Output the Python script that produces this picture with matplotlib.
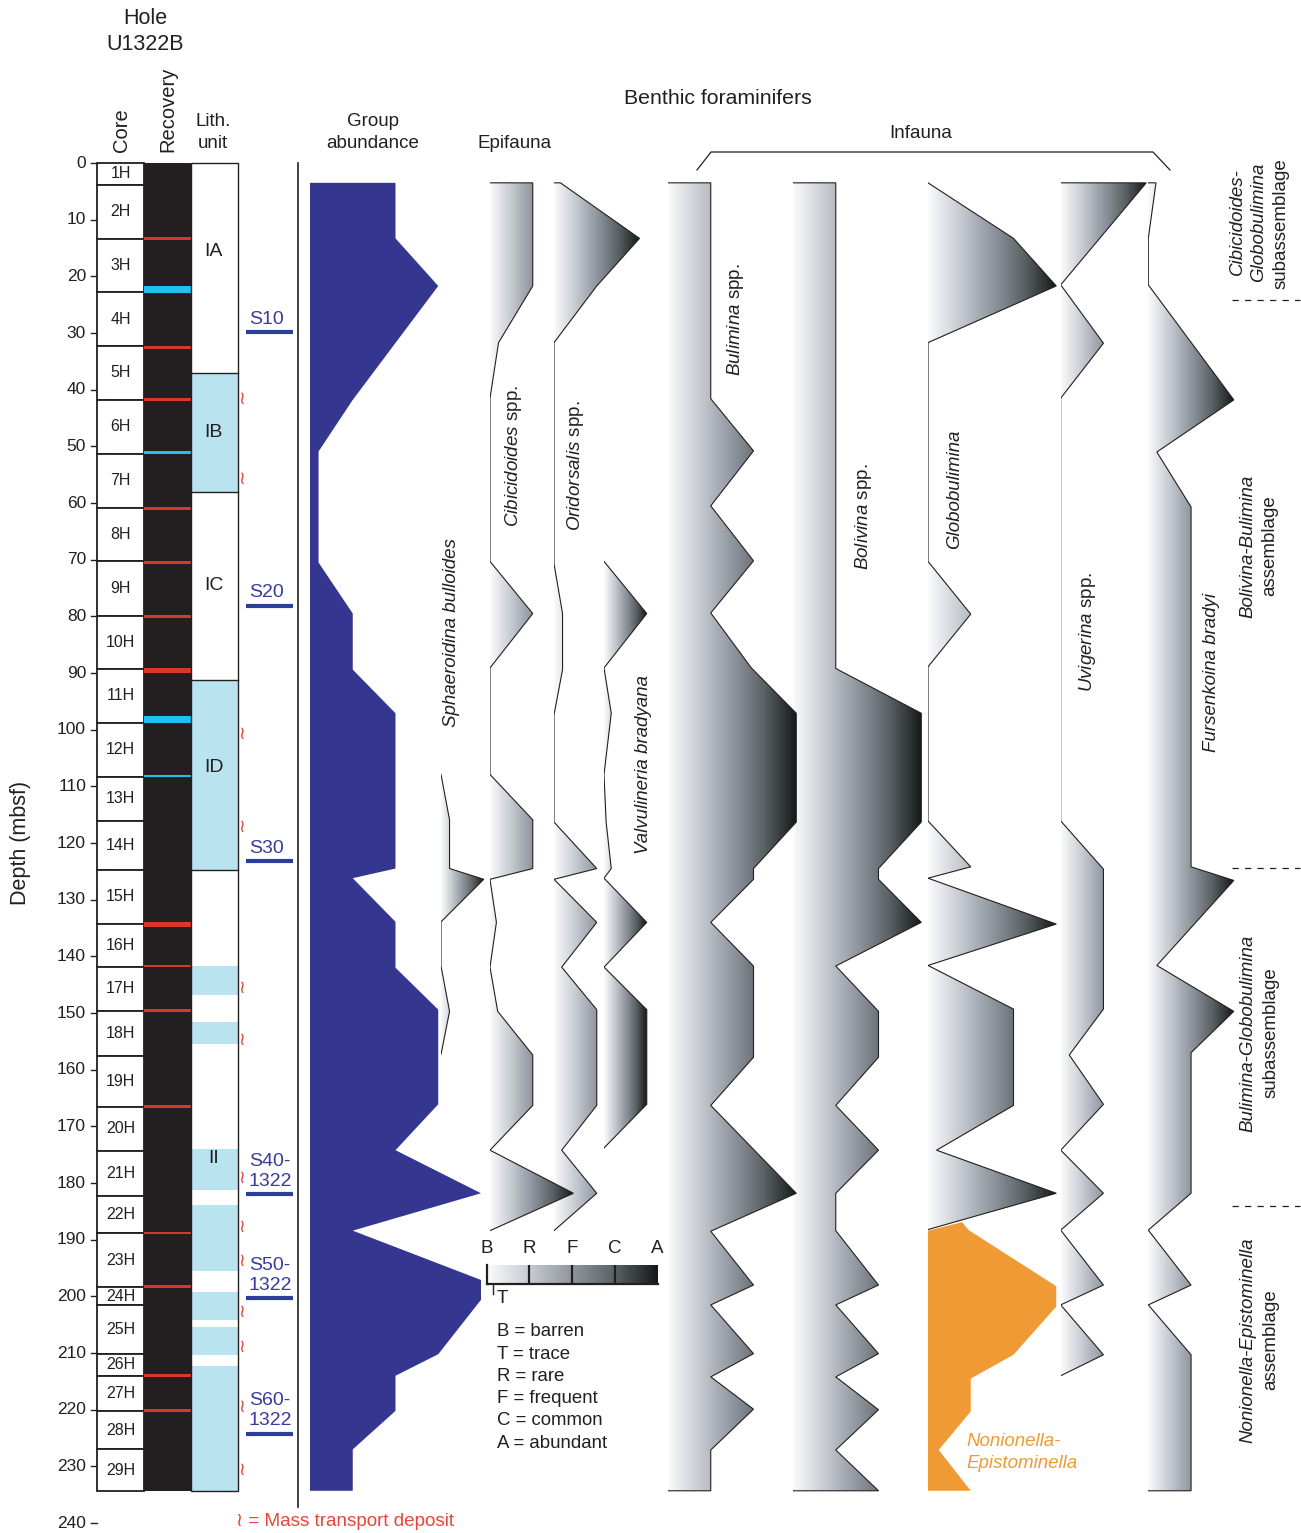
import numpy as np
import matplotlib
matplotlib.use("Agg")
import matplotlib.pyplot as plt
from matplotlib.colors import LinearSegmentedColormap
from matplotlib.patches import Polygon, Rectangle

plt.rcParams['font.family'] = ['Liberation Sans', 'DejaVu Sans']
plt.rcParams['mathtext.fontset'] = 'custom'
plt.rcParams['mathtext.rm'] = 'Liberation Sans'
plt.rcParams['mathtext.it'] = 'Liberation Sans:italic'

# ---------------------------------------------------------------- data
core_names = [f"{i}H" for i in range(1, 30)]
core_bottoms = [3.8, 13.4, 22.8, 32.3, 41.8, 51.3, 60.8, 70.3, 79.9, 89.3,
                98.8, 108.3, 116.1, 124.7, 134.2, 141.8, 149.7, 157.6, 166.6,
                174.3, 182.2, 188.9, 198.3, 201.6, 210.2, 214.0, 220.2, 227.0,
                234.4]

red_marks = [13.4, 32.5, 41.8, 60.9, 70.5, 80.0, 89.5, 134.3, 141.7, 149.6,
             166.5, 188.8, 198.3, 213.9, 220.1]
red_thick = [0.55, 0.55, 0.5, 0.55, 0.55, 0.55, 0.9, 0.9, 0.35, 0.5,
             0.45, 0.5, 0.5, 0.5, 0.45]
cyan_top = [21.7, 50.9, 97.5, 108.05]
cyan_bot = [22.9, 51.35, 98.8, 108.4]

lith_units = ['IA', 'IB', 'IC', 'ID', 'II']
lith_label_depth = [15.7, 47.6, 74.5, 106.6, 175.6]
lith_bounds = [37.1, 58.1, 91.3, 124.8]
mtd_top = [37.1, 91.3, 141.7, 151.5, 174.0, 183.9, 199.2, 205.4, 212.3]
mtd_bot = [58.1, 124.8, 146.9, 155.4, 181.3, 195.5, 204.2, 210.3, 234.3]
mtd_symbols = [41.8, 55.9, 100.8, 117.3, 145.6, 154.9, 179.2, 187.9, 193.9,
               202.9, 209.1, 219.6, 230.8]

seis_names = ['S10', 'S20', 'S30', 'S40-\n1322', 'S50-\n1322', 'S60-\n1322']
seis_depth = [29.9, 78.1, 123.2, 182.0, 200.3, 224.2]

depth_ticks = list(range(0, 241, 10))

# abundance levels: B=0, T~0.2, R=1, F=2, C=3, A=4
group_d = [3.5, 13.3, 21.7, 41.8, 50.9, 70.5, 79.5, 89.4, 97.1, 124.5, 126.2,
           133.9, 142.0, 149.4, 166.1, 174.2, 181.8, 188.4, 197.1, 200.6, 210.2,
           214.0, 220.2, 227.0, 234.3]
group_v = [2, 2, 3, 1, 0.2, 0.2, 1, 1, 2, 2, 1, 2, 2, 3, 3, 2, 4, 1, 4, 4, 3,
           2, 2, 1, 1]

sphaer_d = [107.9, 115.9, 124.5, 126.4, 133.9, 141.7, 149.7, 157.3]
sphaer_v = [0, 0.2, 0.2, 1, 0, 0, 0.2, 0]

cibic_d = [3.5, 21.7, 31.7, 41.5, 70.3, 79.5, 89.1, 107.9, 115.9, 124.5, 126.4,
           134.0, 141.9, 149.7, 157.4, 166.3, 174.2, 181.8, 188.4]
cibic_v = [1, 1, 0.2, 0, 0, 1, 0, 0, 1, 1, 0, 0.15, 0, 0.18, 1, 1, 0, 1.95, 0]

orid_d = [3.5, 13.3, 21.7, 31.7, 70.7, 79.5, 89.4, 97.4, 116.3, 124.5, 126.4,
          134.0, 141.9, 149.4, 166.3, 174.2, 181.8, 188.4]
orid_v = [0.15, 2, 1, 0, 0, 0.2, 0.2, 0, 0, 1, 0, 1, 0.18, 1, 1, 0.18, 1, 0]

valv_d = [70.3, 79.5, 89.1, 97.1, 107.9, 116.3, 124.5, 126.2, 134.0, 141.9,
          149.4, 166.1, 173.8]
valv_v = [0, 1, 0, 0.17, 0, 0.05, 0.17, 0, 1, 0, 1, 1, 0]

bulim_d = [3.5, 41.6, 50.8, 60.5, 70.2, 79.4, 89.1, 97.1, 116.3, 124.5, 126.4,
           134.0, 141.7, 157.8, 166.3, 181.8, 188.5, 198.0, 201.5, 210.1, 214.2,
           219.9, 227.1, 234.3]
bulim_v = [1, 1, 2, 1, 2, 1, 1.95, 3, 3, 2, 2, 1, 2, 2, 1, 3, 1, 2, 1, 2, 1, 2,
           1, 1]

boliv_d = [3.5, 89.2, 97.1, 116.3, 124.5, 126.4, 134.0, 141.7, 149.7, 157.8,
           166.3, 174.2, 181.8, 188.4, 198.0, 201.5, 210.1, 214.2, 220.0, 227.1,
           234.3]
boliv_v = [1, 1, 3, 3, 2, 2, 3, 1, 2, 2, 1, 2, 1, 1, 2, 1, 2, 1, 2, 1, 2]

globo_d = [3.5, 13.3, 21.7, 31.7, 70.3, 79.6, 88.9, 116.1, 124.2, 126.2, 134.3,
           141.6, 149.3, 166.3, 174.2, 181.8, 188.2]
globo_v = [0, 2, 3, 0, 0, 1, 0, 0, 1, 0, 3, 0, 2, 2, 0.2, 3, 0]

nonion_d = [186.9, 188.3, 198.2, 201.8, 210.3, 214.5, 220.3, 227.1, 234.3]
nonion_v = [0.8, 0.95, 3, 3, 2, 1, 1, 0.25, 1]

uvig_d = [3.5, 21.5, 31.8, 41.5, 116.1, 124.6, 149.3, 157.4, 166.1, 174.2,
          181.8, 188.3, 198.0, 201.5, 210.3, 214.0]
uvig_v = [2, 0, 1, 0, 0, 1, 1, 0.2, 1, 0, 1, 0, 1, 0, 1, 0]

furs_d = [3.5, 13.3, 21.5, 41.8, 51.0, 60.7, 124.2, 126.6, 141.6, 149.7, 157.0,
          181.8, 188.3, 198.0, 201.5, 210.3, 234.3]
furs_v = [0.18, 0, 0, 2, 0.2, 1, 1, 2, 0.2, 2, 1, 1, 0, 1, 0, 1, 1]

scale_labels = ['B', 'R', 'F', 'C', 'A']
scale_key = ['B = barren', 'T = trace', 'R = rare', 'F = frequent',
             'C = common', 'A = abundant']

# ---------------------------------------------------------------- layout
W, H, DPI = 1301, 1533, 100
Y_ZERO = 163.0
PX_PER_M = 5.667
D_TOP = -Y_ZERO / PX_PER_M
D_BOT = (H - Y_ZERO) / PX_PER_M
LEVEL_PX = 42.75

INK = '#231f20'
BLUE = '#34368f'
SEIS_BLUE = '#2b3f99'
SEIS_TEXT = '#3b3b9b'
RED = '#e8453c'
ORANGE = '#f09a35'
LITH_BLUE = '#b9e3ef'

grad_cmap = LinearSegmentedColormap.from_list(
    'abund', ['#fbfbfc', '#c6cad1', '#90969e', '#5a6164', '#141818'])

fig = plt.figure(figsize=(W / DPI, H / DPI), dpi=DPI)

main = fig.add_axes([0, 0, 1, 1])
main.set_xlim(0, W)
main.set_ylim(D_BOT, D_TOP)
main.axis('off')


def px_to_depth(y):
    return (y - Y_ZERO) / PX_PER_M


# depth scale
for d in depth_ticks:
    main.plot([90.5, 96.5], [d, d], color=INK, lw=1.0)
    main.text(86, d, str(d), ha='right', va='center', fontsize=12.5, color=INK)
main.text(21, px_to_depth(843), 'Depth (mbsf)', rotation=90, ha='center',
          va='center', fontsize=15.5, color=INK)

# core column
tops = [0.0] + core_bottoms[:-1]
for name, t, b in zip(core_names, tops, core_bottoms):
    main.add_patch(Rectangle((97, t), 47, b - t, facecolor='white',
                             edgecolor=INK, lw=1.3, zorder=2))
    main.text(120.5, (t + b) / 2, name, ha='center', va='center',
              fontsize=11.5, color=INK, zorder=3)

# recovery column
main.add_patch(Rectangle((144, 0), 47, core_bottoms[-1], facecolor=INK,
                         edgecolor='none', zorder=2))
for d, t in zip(red_marks, red_thick):
    main.add_patch(Rectangle((144, d - t / 2), 47, t, facecolor='#d8372c',
                             edgecolor='none', zorder=3))
for t, b in zip(cyan_top, cyan_bot):
    main.add_patch(Rectangle((144, t), 47, b - t, facecolor='#1fc1ef',
                             edgecolor='none', zorder=3))

# lithology column
for t, b in zip(mtd_top, mtd_bot):
    main.add_patch(Rectangle((191, t), 47, b - t, facecolor=LITH_BLUE,
                             edgecolor='none', zorder=2))
main.add_patch(Rectangle((191, 0), 47, core_bottoms[-1], facecolor='none',
                         edgecolor=INK, lw=1.0, zorder=3))
for d in lith_bounds:
    main.plot([191, 238], [d, d], color=INK, lw=1.0, zorder=3)
for name, d in zip(lith_units, lith_label_depth):
    main.text(213.5, d, name, ha='center', va='center', fontsize=14,
              color=INK, zorder=4)
for d in mtd_symbols:
    main.text(241.5, d, '\u2240', ha='center', va='center', fontsize=13,
              color=RED, zorder=4)

# seismic reflectors
for name, d in zip(seis_names, seis_depth):
    main.plot([246, 293], [d, d], color=SEIS_BLUE, lw=3.0, solid_capstyle='butt')
    main.text(249, d - 0.8, name, ha='left', va='bottom', fontsize=14,
              color=SEIS_TEXT, linespacing=1.22)

main.plot([298, 298], [0, 237.1], color=INK, lw=1.2)

# assemblage boundaries
for d in [24.2, 124.4, 184.1]:
    main.plot([1232, 1300], [d, d], color=INK, lw=0.9, dashes=(5, 5))


# ---------------------------------------------------------------- profiles
def column_axes(x0):
    ax = fig.add_axes([x0 / W, 0, 4.3 * LEVEL_PX / W, 1])
    ax.patch.set_alpha(0)
    ax.axis('off')
    return ax


def finish(ax):
    ax.set_xlim(0, 4.3)
    ax.set_ylim(D_BOT, D_TOP)


def gradient_fill(ax, depth, val, z=2):
    d = np.asarray(depth, float)
    v = np.asarray(val, float)
    verts = [(0, d[0])] + list(zip(v, d)) + [(0, d[-1])]
    poly = Polygon(verts, closed=True, facecolor='none', edgecolor='none')
    ax.add_patch(poly)
    grad = np.tile(np.linspace(0, 1, 512), (2, 1))
    im = ax.imshow(grad, cmap=grad_cmap, extent=(0, v.max(), d[-1], d[0]),
                   aspect='auto', interpolation='bilinear', zorder=z)
    im.set_clip_path(poly)


def outline(ax, depth, val):
    xs = [0] + list(val) + [0]
    ys = [depth[0]] + list(depth) + [depth[-1]]
    ax.plot(xs, ys, color=INK, lw=0.8, solid_joinstyle='miter')


ax_g = column_axes(310)
gv = np.asarray(group_v, float)
ax_g.add_patch(Polygon([(0, group_d[0])] + list(zip(gv, group_d)) +
                       [(0, group_d[-1])], closed=True, facecolor=BLUE,
                       edgecolor='none'))
finish(ax_g)

profiles = [(441, sphaer_d, sphaer_v), (490, cibic_d, cibic_v),
            (554, orid_d, orid_v), (604, valv_d, valv_v),
            (668, bulim_d, bulim_v), (793, boliv_d, boliv_v),
            (928, globo_d, globo_v),
            (1060.7, uvig_d, uvig_v), (1148.3, furs_d, furs_v)]

# fills first, right to left, so a column's peaks sit over its right neighbour
for x0, d, v in reversed(profiles):
    ax = column_axes(x0)
    if x0 == 928:
        nv = np.asarray(nonion_v, float)
        ax.add_patch(Polygon([(0, 188.4)] + list(zip(nv, nonion_d)) +
                             [(0, nonion_d[-1])], closed=True,
                             facecolor=ORANGE, edgecolor='none', zorder=1))
    gradient_fill(ax, d, v)
    finish(ax)

# outlines on top of every fill
for x0, d, v in profiles:
    ax = column_axes(x0)
    outline(ax, d, v)
    finish(ax)

# ---------------------------------------------------------------- abundance key
ax_k = fig.add_axes([486.5 / W, (H - 1283.5) / H, 4 * LEVEL_PX / W, 18.5 / H])
ax_k.imshow(np.tile(np.linspace(0, 1, 512), (2, 1)), cmap=grad_cmap,
            extent=(0, 4, 0, 1), aspect='auto', interpolation='bilinear')
ax_k.set_xlim(0, 4)
ax_k.set_ylim(0, 1)
for s in ['top', 'right']:
    ax_k.spines[s].set_visible(False)
for s in ['left', 'bottom']:
    ax_k.spines[s].set_linewidth(1.6)
    ax_k.spines[s].set_color(INK)
for lv in [1, 2, 3]:
    ax_k.plot([lv, lv], [0, 1], color=INK, lw=1.6)
ax_k.set_yticks([])
ax_k.set_xticks(range(5))
ax_k.set_xticklabels(scale_labels, fontsize=13.5, color=INK)
ax_k.xaxis.tick_top()
ax_k.tick_params(axis='x', length=0, pad=6)
ax_k.plot([0.15, 0.15], [0, -0.55], color=INK, lw=1.0, clip_on=False)
ax_k.text(0.38, -0.35, 'T', ha='center', va='top', fontsize=13.5, color=INK)

# ---------------------------------------------------------------- headings
lay = fig.add_axes([0, 0, 1, 1])
lay.set_xlim(0, W)
lay.set_ylim(H, 0)
lay.axis('off')
lay.patch.set_alpha(0)

hk = dict(ha='center', va='center', fontsize=13.5, color=INK)
lay.text(145, 19, 'Hole', ha='center', va='center', fontsize=15.5, color=INK)
lay.text(145, 45, 'U1322B', ha='center', va='center', fontsize=15.5, color=INK)
lay.text(122, 152, 'Core', rotation=90, ha='center', va='bottom',
         fontsize=14.5, color=INK)
lay.text(168, 152, 'Recovery', rotation=90, ha='center', va='bottom',
         fontsize=14.5, color=INK)
lay.text(213, 122, 'Lith.', **hk)
lay.text(213, 144, 'unit', **hk)
lay.text(373, 122, 'Group', **hk)
lay.text(373, 144, 'abundance', **hk)
lay.text(515, 144, 'Epifauna', **hk)
lay.text(718, 98, 'Benthic foraminifers', ha='center', va='center',
         fontsize=15.3, color=INK)
lay.text(921, 134, 'Infauna', **hk)
lay.plot([697, 711, 1153, 1170], [170, 152, 152, 170], color=INK, lw=0.9)

sk = dict(rotation=90, ha='center', va='center', fontsize=13.5, color=INK)
lay.text(452, 633, 'Sphaeroidina bulloides', style='italic', **sk)
lay.text(514, 456, r'$\it{Cibicidoides}$ spp.', **sk)
lay.text(576, 466, r'$\it{Oridorsalis}$ spp.', **sk)
lay.text(644, 765, 'Valvulineria bradyana', style='italic', **sk)
lay.text(736, 320, r'$\it{Bulimina}$ spp.', **sk)
lay.text(864, 517, r'$\it{Bolivina}$ spp.', **sk)
lay.text(955, 489, 'Globobulimina', style='italic', **sk)
lay.text(1087, 632, r'$\it{Uvigerina}$ spp.', **sk)
lay.text(1211, 673, 'Fursenkoina bradyi', style='italic', **sk)

ak = dict(rotation=90, ha='center', va='center', fontsize=13.5, color=INK)
lay.text(1237, 222, 'Cibicidoides-', style='italic', **ak)
lay.text(1259, 222, 'Globobulimina', style='italic', **ak)
lay.text(1281, 224, 'subassemblage', **ak)
lay.text(1248, 546, 'Bolivina-Bulimina', style='italic', **ak)
lay.text(1270, 546, 'assemblage', **ak)
lay.text(1248, 1033, 'Bulimina-Globobulimina', style='italic', **ak)
lay.text(1271, 1033, 'subassemblage', **ak)
lay.text(1248, 1340, 'Nonionella-Epistominella', style='italic', **ak)
lay.text(1271, 1340, 'assemblage', **ak)

lay.text(966, 1441, 'Nonionella-', style='italic', ha='left', va='center',
         fontsize=13.5, color=ORANGE)
lay.text(966, 1463, 'Epistominella', style='italic', ha='left', va='center',
         fontsize=13.5, color=ORANGE)

for i, s in enumerate(scale_key):
    lay.text(497, 1332 + 22.2 * i, s, ha='left', va='center', fontsize=13.4,
             color=INK)

lay.text(236, 1521, '\u2240 = Mass transport deposit', ha='left', va='center',
         fontsize=13.6, color=RED)

fig.savefig('out.png', dpi=DPI)
